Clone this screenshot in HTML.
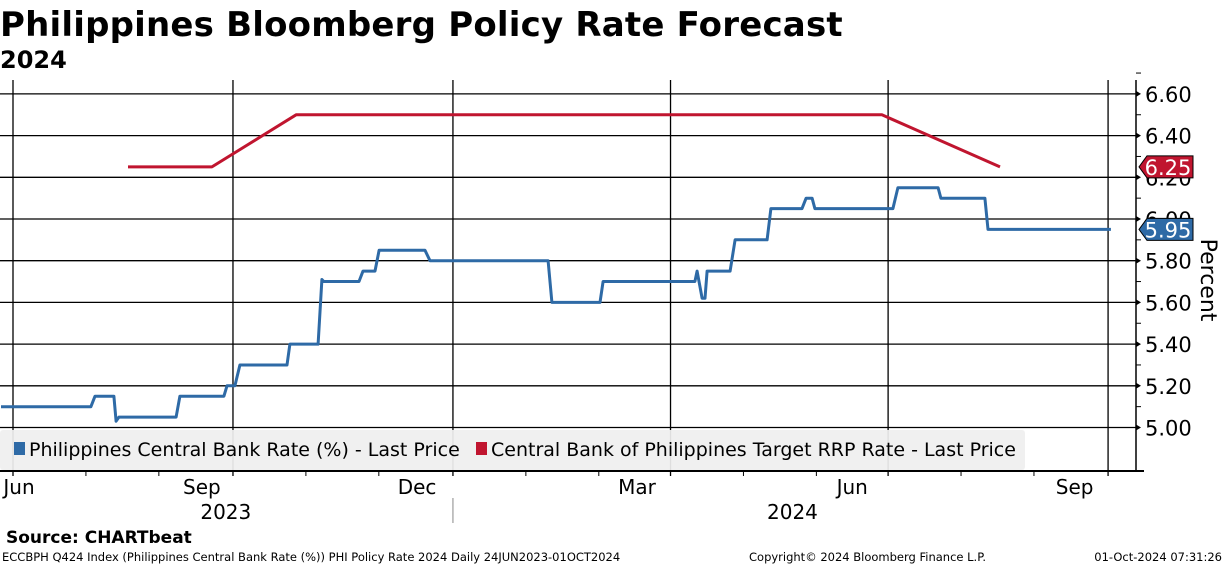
<!DOCTYPE html>
<html><head><meta charset="utf-8"><style>
body{margin:0;background:#fff;width:1224px;height:566px;overflow:hidden;font-family:"DejaVu Sans","Liberation Sans",sans-serif}
svg text{font-family:"DejaVu Sans","Liberation Sans",sans-serif}
</style></head><body>
<svg id="c" width="1224" height="566" xmlns="http://www.w3.org/2000/svg">
<text x="0" y="36" font-size="34" font-weight="bold" fill="#000" letter-spacing="0.2">Philippines Bloomberg Policy Rate Forecast</text>
<text x="0" y="68" font-size="24" font-weight="bold" fill="#000">2024</text>
<g id="grid"></g>
<g id="series"></g>
<g id="legend">
<rect x="0" y="430" width="1025" height="40" fill="#efefef" fill-opacity="0.93" rx="3"/>
<rect x="14" y="442" width="11" height="13" fill="#2e6aa6"/>
<text x="29" y="456" font-size="19" fill="#000">Philippines Central Bank Rate (%) - Last Price</text>
<rect x="476" y="442" width="11" height="13" fill="#c0152f"/>
<text x="491" y="456" font-size="19" fill="#000">Central Bank of Philippines Target RRP Rate - Last Price</text>
</g>
<g id="axes"></g>
<text x="6" y="543" font-size="17" font-weight="bold" fill="#000">Source: CHARTbeat</text>
<text x="2" y="561" font-size="11.5" fill="#000">ECCBPH Q424 Index (Philippines Central Bank Rate (%)) PHI Policy Rate 2024  Daily 24JUN2023-01OCT2024</text>
<text x="749" y="561" font-size="11.5" fill="#000">Copyright© 2024 Bloomberg Finance L.P.</text>
<text x="1222" y="561" font-size="11.5" fill="#000" text-anchor="end">01-Oct-2024 07:31:26</text>
</svg>
<script>
// days since 24 Jun 2023
const blueDays=[2,39.6,41.3,49.2,50.1,51.3,75.2,76.8,95.2,96.5,99.8,101.9,121.6,122.8,134.6,136.2,137,151.7,153.4,158.4,160.1,179.3,181.4,230.8,232.4,252.5,253.8,292.2,293.1,295.2,296.4,297.3,306.9,309,322.4,324,337,338.7,341.2,342.4,375,377.1,393.9,395.1,413.5,414.8,466.2];
const blueVals=[5.10,5.10,5.15,5.15,5.03,5.05,5.05,5.15,5.15,5.20,5.20,5.30,5.30,5.40,5.40,5.71,5.70,5.70,5.75,5.75,5.85,5.85,5.80,5.80,5.60,5.60,5.70,5.70,5.75,5.62,5.62,5.75,5.75,5.90,5.90,6.05,6.05,6.10,6.10,6.05,6.05,6.15,6.15,6.10,6.10,5.95,5.95];
const redDays=[55.1,90.2,125.4,370.4,419.8];
const redVals=[6.25,6.25,6.50,6.50,6.25];
const yTicks=[5.00,5.20,5.40,5.60,5.80,6.00,6.20,6.40,6.60];
const monthLabels=["Jun","Sep","Dec","Mar","Jun","Sep"];
const monthLabelDays=[-8,86,176,268,358,451];
const gridDays=[7,99,191,282,373,465];
const yearLabels=["2023","2024"];
const yearLabelDays=[96,333];
const lastBlue=5.95, lastRed=6.25;

const NS="http://www.w3.org/2000/svg";
const X=d=>13+(d-7)*2.391;
const Y=v=>219-(v-6)*208.5;
const L=0,R=1136,T=80,B=471;
function mk(tag,attrs,parent){const e=document.createElementNS(NS,tag);for(const k in attrs)e.setAttribute(k,attrs[k]);parent.appendChild(e);return e;}
const grid=document.getElementById('grid'),axes=document.getElementById('axes'),ser=document.getElementById('series');
yTicks.forEach(v=>{
 const l=mk('line',{x1:L,x2:R,y1:Y(v),y2:Y(v),stroke:'#000','stroke-width':1.3},grid);
 
 
 const p=mk('path',{d:`M${R} ${Y(v)-3}L${R+5} ${Y(v)}L${R} ${Y(v)+3}Z`,fill:'#000'},axes);
 
 
 const t=mk('text',{x:R+9,y:Y(v)+8,'font-size':21,fill:'#000'},axes);
 t.textContent=v.toFixed(2);
 
 
 const m=mk('line',{x1:R,x2:R+5,y1:Y(v+0.1),y2:Y(v+0.1),stroke:'#000'},axes);
 
 
});
gridDays.forEach(d=>{
 const l=mk('line',{x1:X(d),x2:X(d),y1:T,y2:B+5,stroke:'#000','stroke-width':1.3},grid);
 
 
 [30.5,61].forEach(o=>{if(X(d+o)<R){const m=mk('line',{x1:X(d+o),x2:X(d+o),y1:B,y2:B+5,stroke:'#000'},axes);
 
 }});
});
const ax=mk('line',{x1:R,x2:R,y1:T,y2:B,stroke:'#000','stroke-width':1.5},axes);


const bx=mk('line',{x1:0,x2:R+8,y1:B,y2:B,stroke:'#000','stroke-width':2},axes);


monthLabels.forEach((m,i)=>{
 const t=mk('text',{x:Math.max(19,X(monthLabelDays[i])),y:494,'font-size':20,fill:'#000','text-anchor':'middle'},axes);
 t.textContent=m;
 
 
});
yearLabels.forEach((y,i)=>{
 const t=mk('text',{x:X(yearLabelDays[i]),y:519,'font-size':20,fill:'#000','text-anchor':'middle'},axes);
 t.textContent=y;
 
 
});
const sep=mk('line',{x1:X(191),x2:X(191),y1:498,y2:523,stroke:'#888'},axes);


const yt=mk('text',{x:0,y:0,'font-size':22,fill:'#000','text-anchor':'middle',transform:'translate(1201,280) rotate(90)'},axes);
yt.textContent='Percent';



function line(days,vals,col,name){
 const pts=days.map((d,i)=>X(d).toFixed(1)+','+Y(vals[i]).toFixed(1)).join(' ');
 const p=mk('polyline',{points:pts,fill:'none',stroke:col,'stroke-width':3,'stroke-linejoin':'round'},ser);
 
 
}
line(blueDays,blueVals,'#2e6aa6','central-bank-rate-line');
line(redDays,redVals,'#c0152f','target-rrp-line');
function tag(v,col,name){
 const y=Y(v);
 const p=mk('path',{d:`M1139 ${y}L1147 ${y-11}H1193V${y+11}H1147Z`,fill:col,stroke:'#000','stroke-width':1},axes);
 
 
 const t=mk('text',{x:1168,y:y+8,'font-size':21,fill:'#fff','text-anchor':'middle'},axes);
 t.textContent=v.toFixed(2);
 
 
}
tag(lastRed,'#c0152f','last-value-tag-rrp');
tag(lastBlue,'#2e6aa6','last-value-tag-central-bank');
</script>
</body></html>
